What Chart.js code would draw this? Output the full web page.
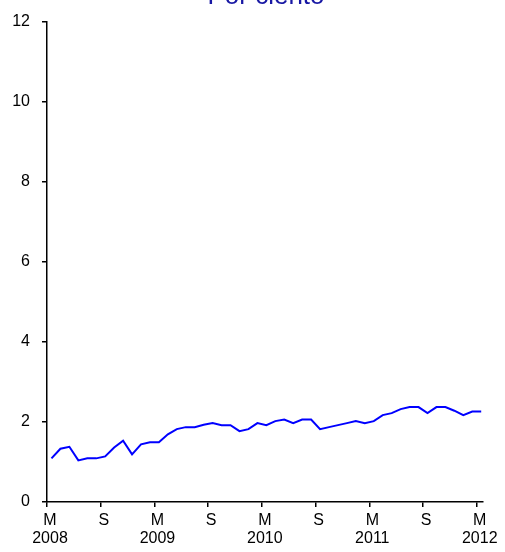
<!DOCTYPE html>
<html>
<head>
<meta charset="utf-8">
<script src="https://cdn.jsdelivr.net/npm/chart.js@4/dist/chart.umd.min.js"></script>
<style>
  html, body { margin: 0; padding: 0; background: #fff; }
  #wrap { width: 505px; height: 552px; }
</style>
</head>
<body>
<div id="wrap"><canvas id="c"></canvas></div>
<script>
// monthly values, Mar 2008 .. Mar 2012
var startYear = 2008;
var tickYears = ['2008', '2009', '2010', '2011', '2012'];
var values = [
  1.09, 1.33, 1.38, 1.04, 1.09, 1.09, 1.14, 1.36, 1.53, 1.19,
  1.44, 1.49, 1.49, 1.69, 1.82, 1.87, 1.87, 1.93, 1.97, 1.92,
  1.92, 1.77, 1.82, 1.97, 1.92, 2.02, 2.06, 1.97, 2.06, 2.06,
  1.82, 1.87, 1.92, 1.97, 2.02, 1.97, 2.02, 2.17, 2.22, 2.32,
  2.37, 2.37, 2.22, 2.37, 2.37, 2.28, 2.17, 2.26, 2.26
];

var points = values.map(function(v, i){ return { x: i + 0.5, y: v }; });

var titlePlugin = {
  id: 'topTitle',
  afterDraw: function(chart){
    var ctx = chart.ctx;
    ctx.save();
    ctx.font = '26px Arial';
    ctx.fillStyle = '#1818a4';
    ctx.textAlign = 'center';
    ctx.textBaseline = 'alphabetic';
    ctx.fillText('Por ciento', 266, 3.5);
    ctx.restore();
  }
};

new Chart(document.getElementById('c'), {
  type: 'line',
  data: {
    datasets: [{
      data: points,
      borderColor: '#0000ff',
      borderWidth: 2,
      pointRadius: 0,
      tension: 0,
      fill: false
    }]
  },
  plugins: [titlePlugin],
  options: {
    responsive: true,
    maintainAspectRatio: false,
    animation: false,
    layout: { padding: { top: 20, right: 22, left: 0, bottom: 0 } },
    plugins: {
      legend: { display: false },
      tooltip: { enabled: false }
    },
    scales: {
      x: {
        type: 'linear',
        min: 0,
        max: 48.7,
        afterFit: function(s){ s.height = 50; },
        border: { display: true, color: '#000', width: 1.5 },
        grid: { display: true, drawOnChartArea: false, drawTicks: true, tickLength: 5, color: '#000', lineWidth: 1.5 },
        ticks: {
          stepSize: 6,
          includeBounds: false,
          autoSkip: false,
          maxRotation: 0,
          padding: 4,
          labelOffset: 3,
          color: '#000',
          font: { family: 'Arial', size: 16, lineHeight: 1.15 },
          callback: function(v){
            if (v % 12 === 0) return ['M', tickYears[v / 12]];
            return 'S';
          }
        }
      },
      y: {
        min: 0,
        max: 12,
        afterFit: function(s){ s.width = 47; },
        border: { display: true, color: '#000', width: 1.5 },
        grid: { display: true, drawOnChartArea: false, drawTicks: true, tickLength: 5, color: '#000', lineWidth: 1.5 },
        ticks: {
          stepSize: 2,
          padding: 12,
          color: '#000',
          font: { family: 'Arial', size: 16 }
        }
      }
    }
  }
});
</script>
</body>
</html>
